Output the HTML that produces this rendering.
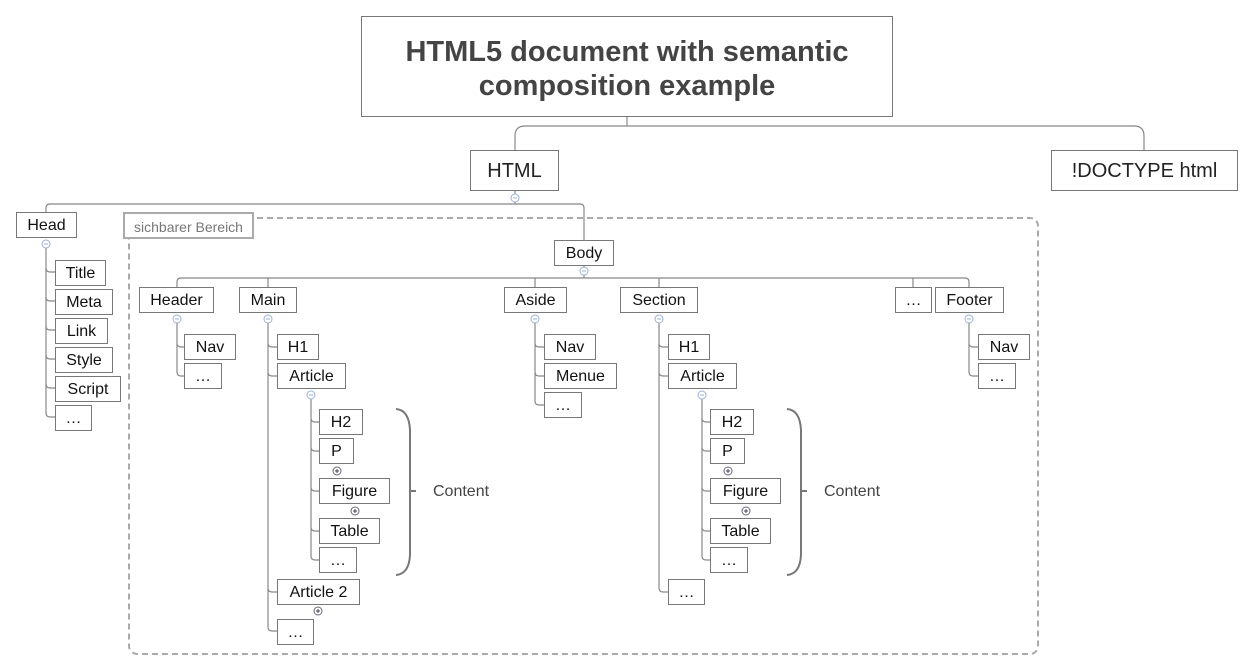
<!DOCTYPE html>
<html><head><meta charset="utf-8">
<style>
body{margin:0;background:#fff;width:1254px;height:671px;position:relative;overflow:hidden;font-family:"Liberation Sans",Arial,sans-serif}
.b{position:absolute;box-sizing:border-box;border:1px solid #777;background:#fff;color:#111;font-size:16px;display:flex;align-items:center;justify-content:center;white-space:nowrap;padding-top:2px}
svg{position:absolute;left:0;top:0}
</style></head><body>
<svg width="1254" height="671" viewBox="0 0 1254 671">
<g fill="none" stroke="#888" stroke-width="1.2">
<path d="M627 116 V126"/>
<path d="M515 150 V136 Q515 126 525 126 H1134 Q1144 126 1144 136 V150"/>
<path d="M515 190 V204"/>
<path d="M46 212 V208 Q46 204 50 204 H580 Q584 204 584 208 V240"/>
<path d="M46 248 V413 Q46 417 50 417 H55"/>
<path d="M46 268 Q46 272 50 272 H55 M46 297 Q46 301 50 301 H55 M46 326 Q46 330 50 330 H55 M46 355 Q46 359 50 359 H55 M46 384 Q46 388 50 388 H55"/>
<path d="M584 265 V278"/>
<path d="M177 287 V282 Q177 278 181 278 H965 Q969 278 969 282 V287"/>
<path d="M268 278 V287 M535 278 V287 M659 278 V287 M913 278 V287"/>
<path d="M177 323 V372 Q177 376 181 376 H184 M177 343 Q177 347 181 347 H184"/>
<path d="M268 323 V627 Q268 631 272 631 H277 M268 343 Q268 347 272 347 H277 M268 372 Q268 376 272 376 H277 M268 588 Q268 592 272 592 H277"/>
<path d="M311 399 V556 Q311 560 315 560 H319 M311 418 Q311 422 315 422 H319 M311 447 Q311 451 315 451 H319 M311 487 Q311 491 315 491 H319 M311 527 Q311 531 315 531 H319"/>
<path d="M535 323 V401 Q535 405 539 405 H544 M535 343 Q535 347 539 347 H544 M535 372 Q535 376 539 376 H544"/>
<path d="M659 323 V588 Q659 592 663 592 H668 M659 343 Q659 347 663 347 H668 M659 372 Q659 376 663 376 H668"/>
<path d="M702 399 V556 Q702 560 706 560 H710 M702 418 Q702 422 706 422 H710 M702 447 Q702 451 706 451 H710 M702 487 Q702 491 706 491 H710 M702 527 Q702 531 706 531 H710"/>
<path d="M969 323 V372 Q969 376 973 376 H978 M969 343 Q969 347 973 347 H978"/>
</g>
<g fill="none" stroke="#777" stroke-width="2">
<path d="M396 409 Q409 410 410 430 V555 Q409 574 396 575 M410 491 H416"/>
<path d="M787 409 Q800 410 801 430 V555 Q800 574 787 575 M801 491 H807"/>
</g>
<rect x="129" y="218" width="909" height="436" rx="8" fill="none" stroke="#aaa" stroke-width="2" stroke-dasharray="6,4"/>
<g fill="#fff" stroke="#9bb0d8" stroke-width="1">
<circle cx="515" cy="198" r="4"/><circle cx="46" cy="244" r="4"/><circle cx="584" cy="271" r="4"/>
<circle cx="177" cy="319" r="4"/><circle cx="268" cy="319" r="4"/><circle cx="535" cy="319" r="4"/>
<circle cx="659" cy="319" r="4"/><circle cx="969" cy="319" r="4"/><circle cx="311" cy="395" r="4"/><circle cx="702" cy="395" r="4"/>
</g>
<g stroke="#9bb0d8" stroke-width="1"><path d="M513 198h4M44 244h4M582 271h4M175 319h4M266 319h4M533 319h4M657 319h4M967 319h4M309 395h4M700 395h4"/></g>
<g fill="#fff" stroke="#667" stroke-width="1">
<circle cx="337" cy="471" r="4"/><circle cx="355" cy="511" r="4"/><circle cx="318" cy="611" r="4"/>
<circle cx="728" cy="471" r="4"/><circle cx="746" cy="511" r="4"/>
</g>
<g stroke="#445" stroke-width="1"><path d="M335 471h4M337 469v4M353 511h4M355 509v4M316 611h4M318 609v4M726 471h4M728 469v4M744 511h4M746 509v4"/></g>
</svg>

<div class="b" style="left:361px;top:16px;width:532px;height:101px;font-size:29px;font-weight:bold;color:#444;text-align:center;line-height:34px;padding-top:4px">HTML5 document with semantic<br>composition example</div>
<div class="b" style="left:470px;top:150px;width:89px;height:41px;font-size:20px;color:#222">HTML</div>
<div class="b" style="left:1051px;top:150px;width:187px;height:41px;font-size:20px;color:#222">!DOCTYPE html</div>

<div class="b" style="left:16px;top:212px;width:61px;height:26px">Head</div>
<div class="b" style="left:55px;top:260px;width:51px;height:26px">Title</div>
<div class="b" style="left:55px;top:289px;width:58px;height:26px">Meta</div>
<div class="b" style="left:55px;top:318px;width:53px;height:26px">Link</div>
<div class="b" style="left:55px;top:347px;width:58px;height:26px">Style</div>
<div class="b" style="left:55px;top:376px;width:66px;height:26px">Script</div>
<div class="b" style="left:55px;top:405px;width:37px;height:26px">…</div>

<div class="b" style="left:123px;top:212px;width:131px;height:27px;border:2px solid #aaa;color:#777;font-size:14px">sichbarer Bereich</div>

<div class="b" style="left:554px;top:240px;width:60px;height:26px">Body</div>
<div class="b" style="left:139px;top:287px;width:75px;height:26px">Header</div>
<div class="b" style="left:239px;top:287px;width:58px;height:26px">Main</div>
<div class="b" style="left:504px;top:287px;width:63px;height:26px">Aside</div>
<div class="b" style="left:620px;top:287px;width:78px;height:26px">Section</div>
<div class="b" style="left:895px;top:287px;width:37px;height:26px">…</div>
<div class="b" style="left:935px;top:287px;width:69px;height:26px">Footer</div>

<div class="b" style="left:184px;top:334px;width:52px;height:26px">Nav</div>
<div class="b" style="left:184px;top:363px;width:38px;height:26px">…</div>

<div class="b" style="left:277px;top:334px;width:42px;height:26px">H1</div>
<div class="b" style="left:277px;top:363px;width:69px;height:26px">Article</div>
<div class="b" style="left:319px;top:409px;width:44px;height:26px">H2</div>
<div class="b" style="left:319px;top:438px;width:35px;height:26px">P</div>
<div class="b" style="left:319px;top:478px;width:71px;height:26px">Figure</div>
<div class="b" style="left:319px;top:518px;width:61px;height:26px">Table</div>
<div class="b" style="left:319px;top:547px;width:38px;height:26px">…</div>
<div class="b" style="left:277px;top:579px;width:83px;height:26px">Article 2</div>
<div class="b" style="left:277px;top:619px;width:37px;height:26px">…</div>
<div style="position:absolute;left:433px;top:483px;font-size:16px;color:#444">Content</div>

<div class="b" style="left:544px;top:334px;width:52px;height:26px">Nav</div>
<div class="b" style="left:544px;top:363px;width:73px;height:26px">Menue</div>
<div class="b" style="left:544px;top:392px;width:38px;height:26px">…</div>

<div class="b" style="left:668px;top:334px;width:42px;height:26px">H1</div>
<div class="b" style="left:668px;top:363px;width:69px;height:26px">Article</div>
<div class="b" style="left:710px;top:409px;width:44px;height:26px">H2</div>
<div class="b" style="left:710px;top:438px;width:35px;height:26px">P</div>
<div class="b" style="left:710px;top:478px;width:71px;height:26px">Figure</div>
<div class="b" style="left:710px;top:518px;width:61px;height:26px">Table</div>
<div class="b" style="left:710px;top:547px;width:38px;height:26px">…</div>
<div class="b" style="left:668px;top:579px;width:37px;height:26px">…</div>
<div style="position:absolute;left:824px;top:483px;font-size:16px;color:#444">Content</div>

<div class="b" style="left:978px;top:334px;width:52px;height:26px">Nav</div>
<div class="b" style="left:978px;top:363px;width:38px;height:26px">…</div>
</body></html>
